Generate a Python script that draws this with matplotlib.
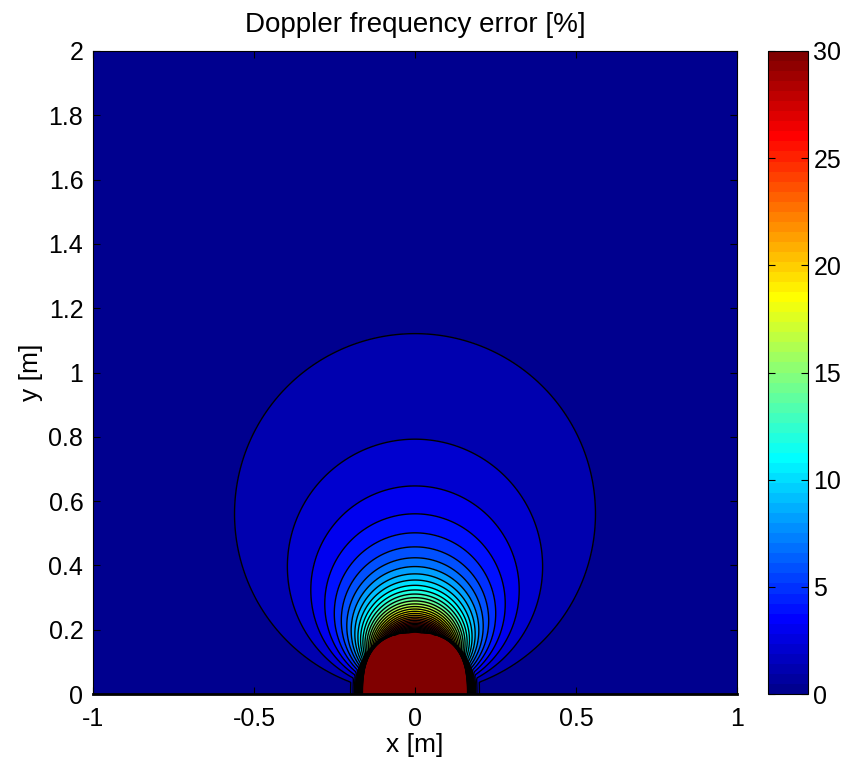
import numpy as np
import matplotlib
matplotlib.use("Agg")
import matplotlib.pyplot as plt
from matplotlib.colors import ListedColormap, Normalize
from matplotlib.cm import ScalarMappable

plt.rcParams['font.family'] = ['Liberation Sans', 'DejaVu Sans']

# error contours are drawn every 1 %, colour scale clipped at 0..30 %
LEVEL_STEP = 1
LEVEL_MAX = 34
C_MIN, C_MAX = 0, 30

# apex of the first error contours on the y axis [m]
APEX_LEVELS = [1, 2, 3, 4, 5, 6]
APEX_HEIGHTS = [1.129, 0.793, 0.648, 0.560, 0.500, 0.455]

# near-field zone around the sensor (x half width, height, where contours meet y=0)
NEAR_HALF_WIDTH = 0.163
NEAR_HEIGHT = 0.19
NEAR_EDGE_X = 0.20
NEAR_SHAPE_EXP = 2.6

X_TICKS = [-1, -0.5, 0, 0.5, 1]
X_TICK_LABELS = ['-1', '-0.5', '0', '0.5', '1']
Y_TICKS = [0, 0.2, 0.4, 0.6, 0.8, 1, 1.2, 1.4, 1.6, 1.8, 2]
Y_TICK_LABELS = ['0', '0.2', '0.4', '0.6', '0.8', '1', '1.2', '1.4', '1.6', '1.8', '2']
CBAR_TICKS = [0, 5, 10, 15, 20, 25, 30]


def matlab_jet(m=64):
    """MATLAB style jet colormap with m entries"""
    n = int(np.ceil(m / 4))
    u = np.concatenate([np.arange(1, n + 1) / n, np.ones(n - 1), np.arange(n, 0, -1) / n])
    g = int(np.ceil(n / 2)) - (1 if m % 4 == 1 else 0) + np.arange(1, len(u) + 1)
    J = np.zeros((m, 3))
    for col, idx in ((0, g + n), (1, g), (2, g - n)):
        ok = (idx >= 1) & (idx <= m)
        J[idx[ok] - 1, col] = u[ok]
    return J


# error field on the measurement grid
x = np.linspace(-1, 1, 401)
y = np.linspace(0, 2, 401)
X, Y = np.meshgrid(x, y)

k_far = np.mean(np.array(APEX_HEIGHTS) * np.sqrt(APEX_LEVELS))
R2 = np.maximum(X ** 2 + Y ** 2, 1e-9)
far = (k_far * Y / R2) ** 2

p = NEAR_SHAPE_EXP
rho = ((np.abs(X) / NEAR_HALF_WIDTH) ** p + (Y / NEAR_HEIGHT) ** p) ** (1 / p)
rho = np.maximum(rho, 1e-6)
n_exp = np.log(LEVEL_MAX) / np.log(NEAR_EDGE_X / NEAR_HALF_WIDTH)
near = LEVEL_MAX * rho ** (-n_exp)

Z = np.minimum(np.maximum(far, near), 1e4)

levels = list(np.arange(0, LEVEL_MAX + LEVEL_STEP, LEVEL_STEP)) + [1e4 + 1]
jet64 = matlab_jet(64)
band_colors = []
for lo in levels[:-1]:
    idx = int((lo - C_MIN) / (C_MAX - C_MIN) * 64)
    band_colors.append(jet64[min(max(idx, 0), 63)])

fig = plt.figure(figsize=(8.49, 7.67), dpi=100)
ax = fig.add_axes([93 / 849, 73 / 767, 644 / 849, 643 / 767])

ax.contourf(X, Y, Z, levels=levels, colors=band_colors)
ax.contour(X, Y, Z, levels=levels[1:-1], colors='k', linewidths=1.0)

ax.set_xlim(-1, 1)
ax.set_ylim(0, 2)
ax.set_xticks(X_TICKS)
ax.set_xticklabels(X_TICK_LABELS)
ax.set_yticks(Y_TICKS)
ax.set_yticklabels(Y_TICK_LABELS)
ax.tick_params(direction='in', top=True, right=True, length=5, width=0.8,
               labelsize=18)
ax.tick_params(axis='x', pad=9)
ax.tick_params(axis='y', pad=7)
for s in ax.spines.values():
    s.set_linewidth(0.8)
ax.spines['bottom'].set_linewidth(2)

ax.set_xlabel('x [m]', fontsize=19, labelpad=2)
ax.set_ylabel('y [m]', fontsize=19, labelpad=4)
ax.set_title('Doppler frequency error [%]', fontsize=20, pad=14)

# colorbar with the 64 jet steps
cax = fig.add_axes([767.7 / 849, 73 / 767, 40 / 849, 643 / 767])
sm = ScalarMappable(norm=Normalize(C_MIN, C_MAX), cmap=ListedColormap(jet64))
cb = fig.colorbar(sm, cax=cax, ticks=CBAR_TICKS)
cb.outline.set_linewidth(0.8)
cax.tick_params(direction='in', left=True, right=True, length=5, width=0.8,
                labelsize=18, pad=4)

fig.savefig('out.png', dpi=100)
